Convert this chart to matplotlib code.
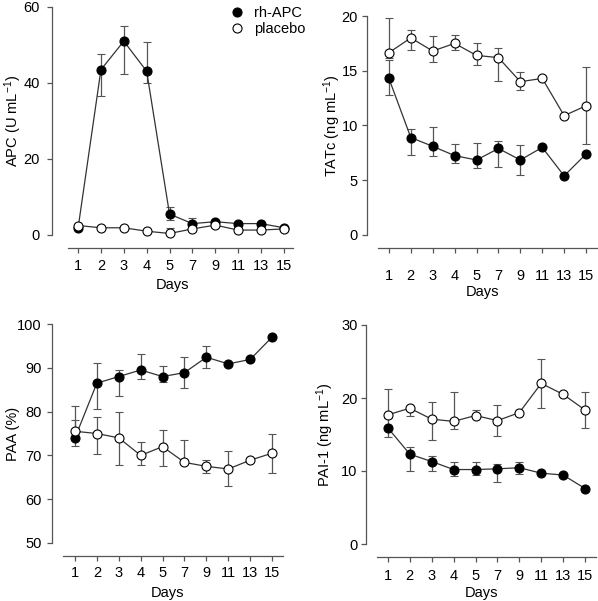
import matplotlib
matplotlib.use("Agg")
import matplotlib.pyplot as plt
from matplotlib.lines import Line2D
import numpy as np

plt.rcParams['font.family'] = ['Liberation Sans', 'DejaVu Sans']
plt.rcParams['mathtext.fontset'] = 'custom'
plt.rcParams['mathtext.rm'] = 'Liberation Sans'
plt.rcParams['mathtext.it'] = 'Liberation Sans:italic'
plt.rcParams['mathtext.bf'] = 'Liberation Sans:bold'
plt.rcParams['font.size'] = 10

nan = np.nan
days = ['1', '2', '3', '4', '5', '7', '9', '11', '13', '15']

# APC (U mL-1)
apc_rh = [1.8, 43.5, 51.0, 43.1, 5.5, 3.0, 3.5, 3.0, 3.0, 1.9]
apc_rh_hi = [nan, 47.6, 55.0, 50.7, 7.4, 4.4, nan, nan, nan, nan]
apc_rh_lo = [nan, 36.7, 42.5, 40.1, 4.0, nan, nan, nan, nan, nan]
apc_pl = [2.5, 1.9, 1.9, 1.0, 0.4, 1.6, 2.6, 1.3, 1.3, 1.6]
apc_pl_hi = [nan, nan, nan, nan, 1.75, nan, nan, nan, nan, nan]
apc_pl_lo = [nan, nan, nan, nan, nan, nan, nan, nan, nan, nan]

# TATc (ng mL-1)
tat_rh = [14.3, 8.9, 8.1, 7.25, 6.85, 7.9, 6.85, 8.0, 5.4, 7.4]
tat_rh_hi = [16.0, 9.7, 9.85, 8.3, 8.4, 8.6, 8.2, nan, nan, nan]
tat_rh_lo = [12.8, 7.3, 7.2, 6.6, 6.1, 6.25, 5.5, nan, nan, nan]
tat_pl = [16.65, 18.0, 16.8, 17.5, 16.4, 16.2, 14.0, 14.3, 10.9, 11.8]
tat_pl_hi = [19.85, 18.75, 18.2, 18.3, 17.5, 17.1, 14.85, nan, nan, 15.3]
tat_pl_lo = [16.2, 16.9, 15.8, 16.9, 15.5, 14.05, 13.2, nan, nan, 8.3]

# PAA (%)
paa_rh = [74.0, 86.5, 88.0, 89.5, 88.0, 88.9, 92.4, 90.9, 91.9, 97.0]
paa_rh_hi = [78.1, 91.1, 89.5, 93.1, 90.3, 92.4, 95.0, nan, nan, nan]
paa_rh_lo = [72.2, 80.7, 83.5, 87.4, 86.8, 85.4, 90.0, nan, nan, nan]
paa_pl = [75.5, 75.0, 74.0, 70.0, 72.0, 68.4, 67.5, 66.9, 68.9, 70.5]
paa_pl_hi = [81.3, 78.7, 79.9, 73.0, 75.7, 73.5, 68.9, 71.0, nan, 75.0]
paa_pl_lo = [nan, 70.4, 67.9, 67.9, 67.5, nan, 66.0, 63.0, nan, 66.0]

# PAI-1 (ng mL-1)
pai_rh = [15.9, 12.3, 11.3, 10.2, 10.2, 10.3, 10.45, 9.7, 9.45, 7.6]
pai_rh_hi = [17.2, 13.3, 12.0, 11.3, 11.2, 11.0, 11.3, nan, nan, nan]
pai_rh_lo = [14.6, 10.0, 9.95, 9.3, 9.4, 8.45, 9.6, nan, nan, nan]
pai_pl = [17.7, 18.6, 17.1, 16.8, 17.6, 16.9, 18.0, 22.0, 20.5, 18.35]
pai_pl_hi = [21.2, nan, 19.4, 20.8, 18.35, 19.0, nan, 25.3, nan, 20.8]
pai_pl_lo = [nan, 17.5, 14.2, 15.7, nan, 14.75, nan, 18.6, nan, 15.9]

W, H = 598, 601
fig = plt.figure(figsize=(W / 100, H / 100), dpi=100)

x = np.arange(len(days))

def yerr(val, hi, lo):
    v = np.asarray(val, float)
    up = np.nan_to_num(np.asarray(hi, float) - v)
    dn = np.nan_to_num(v - np.asarray(lo, float))
    return [dn, up]

def panel(lpx, rpx, tpx, bpx, xlim, ylim, yticks, ylabel, spine_b,
          rh, rh_hi, rh_lo, pl, pl_hi, pl_lo, ylab_x, xlab_y, ytick_pad, xtick_pad):
    ax = fig.add_axes([lpx / W, 1 - bpx / H, (rpx - lpx) / W, (bpx - tpx) / H])
    ax.set_xlim(*xlim)
    ax.set_ylim(*ylim)
    for s in ['top', 'right']:
        ax.spines[s].set_visible(False)
    ax.spines['bottom'].set_position(('outward', 9.4))
    ax.spines['bottom'].set_bounds(*spine_b)
    ax.spines['left'].set_bounds(*ylim)
    for s in ['bottom', 'left']:
        ax.spines[s].set_color('#555555')
        ax.spines[s].set_linewidth(0.9)
    ax.set_xticks(x)
    ax.set_xticklabels(days)
    ax.set_yticks(yticks)
    ax.tick_params(direction='out', length=3.5, width=0.9, color='#555555',
                   labelsize=10.5)
    ax.tick_params(axis='x', pad=xtick_pad)
    ax.tick_params(axis='y', pad=ytick_pad)
    ekw = dict(ecolor='#555555', elinewidth=0.9, capsize=3, capthick=0.9,
               color='#333333', lw=0.9, ms=6.5, mec='black', mew=0.8,
               clip_on=False)
    e1 = ax.errorbar(x, rh, yerr=yerr(rh, rh_hi, rh_lo), marker='o', mfc='black',
                     zorder=3, **ekw)
    e2 = ax.errorbar(x, pl, yerr=yerr(pl, pl_hi, pl_lo), marker='o', mfc='white',
                     zorder=4, **ekw)
    for e in (e1, e2):
        for c in e[1]:
            c.set_clip_on(False)
        for c in e[2]:
            c.set_clip_on(False)
    ax.set_ylabel(ylabel, fontsize=10.5, va='center')
    ax.yaxis.set_label_coords((ylab_x - lpx) / (rpx - lpx), 0.5)
    ax.set_xlabel('Days', fontsize=10.5, va='center')
    ax.xaxis.set_label_coords(0.5, (bpx - xlab_y) / (bpx - tpx))
    return ax

ax1 = panel(52, 293, 7, 235, (-1.14, 9.4), (0, 60), [0, 20, 40, 60],
            r'APC (U mL$^{-1}$)', (-0.45, 9.4),
            apc_rh, apc_rh_hi, apc_rh_lo, apc_pl, apc_pl_hi, apc_pl_lo, 13, 285, 5.5, 4.5)
ax2 = panel(367, 597, 16, 235, (-1.0, 9.5), (0, 20), [0, 5, 10, 15, 20],
            r'TATc (ng mL$^{-1}$)', (-0.5, 9.5),
            tat_rh, tat_rh_hi, tat_rh_lo, tat_pl, tat_pl_hi, tat_pl_lo, 332, 292, 3, 11.5)
ax3 = panel(52, 283, 324, 543, (-1.05, 9.5), (50, 100), [50, 60, 70, 80, 90, 100],
            'PAA (%)', (-0.55, 9.5),
            paa_rh, paa_rh_hi, paa_rh_lo, paa_pl, paa_pl_hi, paa_pl_lo, 13, 593, 4, 3.5)
ax4 = panel(366, 596, 325, 544, (-1.0, 9.5), (0, 30), [0, 10, 20, 30],
            r'PAI-1 (ng mL$^{-1}$)', (-0.5, 9.5),
            pai_rh, pai_rh_hi, pai_rh_lo, pai_pl, pai_pl_hi, pai_pl_lo, 325, 593, 2.5, 5.2)

handles = [Line2D([], [], ls='none', marker='o', ms=6.5, mfc='black', mec='black', mew=0.8),
           Line2D([], [], ls='none', marker='o', ms=6.5, mfc='white', mec='black', mew=0.8)]
ax1.legend(handles, ['rh-APC', 'placebo'], loc='upper left',
           bbox_to_anchor=((230 - 52) / 241, (235 - 6) / 228),
           frameon=False, borderpad=0, borderaxespad=0, handlelength=1.0,
           handletextpad=0.65, labelspacing=0.15, fontsize=10.5)

fig.savefig('out.png', dpi=100)
